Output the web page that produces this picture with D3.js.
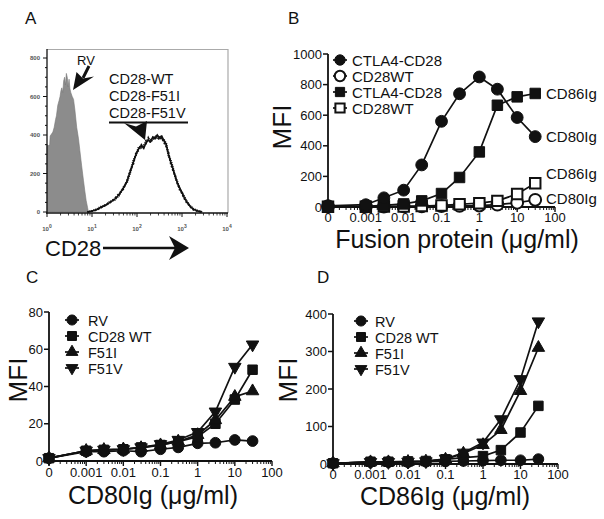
<!DOCTYPE html>
<html><head><meta charset="utf-8">
<script src="https://cdn.jsdelivr.net/npm/d3@7"></script>
<style>
body{margin:0;background:#fff;}
svg{display:block;font-family:"Liberation Sans",Arial,sans-serif;}
</style></head>
<body><svg id="chart" width="604" height="519"></svg>
<script>
// ---------- DATA ----------
// Panel A: flow histograms (x = log10 fluorescence, y = count)
const aRvLog    = [0.00,0.03,0.06,0.07,0.10,0.13,0.16,0.19,0.21,0.24,0.27,0.29,0.31,0.33,0.35,0.37,0.39,0.41,0.43,0.45,0.47,0.49,0.51,0.53,0.56,0.59,0.62,0.66,0.70,0.73,0.77,0.81,0.84,0.87,0.90,0.92];
const aRvCount  = [350,345,350,395,405,415,440,480,500,555,580,600,630,645,620,680,700,660,720,700,650,690,640,620,600,585,530,440,380,320,240,165,110,60,25,0];
const aCd28Log  = [0.90,1.00,1.10,1.20,1.30,1.40,1.50,1.60,1.70,1.78,1.85,1.92,1.98,2.04,2.10,2.15,2.20,2.25,2.30,2.35,2.40,2.45,2.50,2.55,2.60,2.65,2.70,2.75,2.80,2.85,2.90,2.95,3.00,3.05,3.10,3.18,3.25,3.35,3.45];
const aWtCount  = [0,5,12,25,35,50,65,90,125,160,210,260,300,330,345,330,360,375,365,390,380,400,385,395,370,350,300,260,225,185,150,125,100,75,55,30,15,5,0];
const aF51ICount= [0,4,10,22,38,48,70,95,120,165,215,250,310,320,350,340,355,385,360,380,390,395,375,385,360,340,310,250,215,190,145,120,95,70,50,28,12,4,0];
const aF51VCount= [0,6,14,28,33,55,62,85,130,155,205,270,295,340,335,345,370,365,380,375,395,385,395,380,375,355,290,270,230,180,155,115,105,80,58,32,18,6,0];
const aYTicks   = [0,200,400,600,800];
const aXDecades = [0,1,2,3,4];

// Dose-response panels
const doses       = [0, 0.001, 0.003, 0.01, 0.03, 0.1, 0.3, 1, 3, 10, 30];
const xTickValues = [1e-4, 1e-3, 1e-2, 0.1, 1, 10, 100];
const xTickLabels = ["0", "0.001", "0.01", "0.1", "1", "10", "100"];

// Panel B
const bCtla4Cd80 = [8, 15, 60, 110, 275, 560, 740, 850, 770, 585, 460];
const bWtCd80    = [3, 3, 3, 4, 4, 6, 7, 9, 15, 28, 47];
const bCtla4Cd86 = [3, 5, 10, 20, 40, 88, 193, 360, 665, 720, 742];
const bWtCd86    = [2, 2, 3, 4, 6, 10, 18, 25, 40, 85, 155];
const bLegend    = ["CTLA4-CD28", "CD28WT", "CTLA4-CD28", "CD28WT"];
const bYTicks    = [0, 200, 400, 600, 800, 1000];

// Panel C (CD80Ig)
const cRv   = [1.5, 5, 5, 5.5, 5, 6.3, 7.3, 9.5, 9.8, 11.3, 10.7];
const cWt   = [1.5, 5.5, 6, 6.3, 7.3, 8.6, 10.4, 13, 20, 33, 49];
const cF51I = [1.5, 5.5, 6, 6.3, 7, 8.5, 10.5, 14, 22, 34.5, 37.5];
const cF51V = [1.5, 5.5, 6, 6.3, 7.3, 9, 11.3, 15.5, 26.5, 50.5, 62.5];
const cYTicks = [0, 20, 40, 60, 80];

// Panel D (CD86Ig)
const dRv   = [2, 5, 5, 5, 6, 7, 8, 9, 10, 10, 13];
const dWt   = [2, 6, 6, 7, 8, 12.5, 17, 21, 37, 84, 155];
const dF51I = [2, 5, 5, 6, 7, 12, 28, 51, 91, 195, 310];
const dF51V = [2, 5, 5, 6, 7, 14, 30, 57, 119, 226, 380];
const dYTicks = [0, 100, 200, 300, 400];

const cdLegend = ["RV", "CD28 WT", "F51I", "F51V"];

// ---------- DRAW ----------
const svg = d3.select("#chart");
const INK = "#111";
const ZERO_AT = 1e-4;               // the "0" dose sits one decade below 0.001
const toAxis = v => v === 0 ? ZERO_AT : v;

function label(txt, x, y, size, anchor = "start", extra = {}) {
  const t = svg.append("text").attr("x", x).attr("y", y)
    .attr("font-size", size).attr("fill", INK).attr("text-anchor", anchor).text(txt);
  for (const k in extra) t.attr(k, extra[k]);
  return t;
}

// panel letters
label("A", 25, 24, 17); label("B", 288, 24, 17);
label("C", 26, 283, 17); label("D", 317, 283, 17);

// ---------- Panel A ----------
(function () {
  const x = d3.scaleLinear().domain([0, 4]).range([47, 227]);
  const y = d3.scaleLinear().domain([0, 800]).range([212, 58]);
  const g = svg.append("g");
  g.append("path").attr("d", `M47,49.5 H228 V213`).attr("fill", "none").attr("stroke", "#aaa").attr("stroke-width", 1.2);
  const area = d3.area().x((d, i) => x(aRvLog[i])).y0(y(0)).y1(d => y(d));
  g.append("path").datum(aRvCount).attr("d", area).attr("fill", "#8c8c8c").attr("stroke", "#777").attr("stroke-width", 0.6);
  const line = d3.line().x((d, i) => x(aCd28Log[i])).y(d => y(d));
  [[aWtCount, null, 1.6], [aF51ICount, "2,1.5", 1.8], [aF51VCount, "1,1", 2]].forEach(([arr, dash, w]) => {
    const p = g.append("path").datum(arr).attr("d", line).attr("fill", "none").attr("stroke", INK).attr("stroke-width", w);
    if (dash) p.attr("stroke-dasharray", dash);
  });
  g.append("line").attr("x1", 47).attr("x2", 47).attr("y1", 49).attr("y2", 213.5).attr("stroke", INK).attr("stroke-width", 1.3);
  g.append("line").attr("x1", 46).attr("x2", 228).attr("y1", 213).attr("y2", 213).attr("stroke", INK).attr("stroke-width", 1.3);
  d3.range(0, 850, 50).forEach(v => {
    const major = v % 200 === 0;
    g.append("line").attr("x1", 47).attr("x2", major ? 43 : 45).attr("y1", y(v)).attr("y2", y(v)).attr("stroke", INK).attr("stroke-width", 1);
  });
  aYTicks.forEach(v => label(String(v), 40, y(v) + 2, 6, "end", { "font-weight": "bold", fill: "#555" }));
  aXDecades.forEach(dcd => {
    g.append("line").attr("x1", x(dcd)).attr("x2", x(dcd)).attr("y1", 213).attr("y2", 217).attr("stroke", INK);
    if (dcd < 4) d3.range(2, 10).forEach(m => {
      const xv = x(dcd + Math.log10(m));
      g.append("line").attr("x1", xv).attr("x2", xv).attr("y1", 213).attr("y2", 215.5).attr("stroke", INK).attr("stroke-width", 0.8);
    });
    const t = label("10", x(dcd), 231, 6, "middle", { "font-weight": "bold", fill: "#555" });
    t.append("tspan").attr("dy", -3).attr("font-size", 5).text(dcd);
  });
  label("RV", 77, 65, 13);
  g.append("line").attr("x1", 83).attr("y1", 78).attr("x2", 89).attr("y2", 66).attr("stroke", INK).attr("stroke-width", 3);
  g.append("path").attr("d", "M73,90 L76.5,72 L83,78.5 L94,76.5 Z").attr("fill", INK);
  label("CD28-WT", 109, 84, 14.5);
  label("CD28-F51I", 109, 101, 14.5);
  label("CD28-F51V", 109, 118, 14.5);
  g.append("line").attr("x1", 109).attr("x2", 188).attr("y1", 122.5).attr("y2", 122.5).attr("stroke", INK).attr("stroke-width", 2);
  g.append("path").attr("d", "M145,140 L124,123 L136,126.5 L147,121 Z").attr("fill", INK);
  label("CD28", 45, 256, 22);
  g.append("line").attr("x1", 103).attr("x2", 178).attr("y1", 248).attr("y2", 248).attr("stroke", INK).attr("stroke-width", 2.5);
  g.append("path").attr("d", "M189,248 L169,236 L175,248 L169,260 Z").attr("fill", INK);
})();

// ---------- dose-response panels ----------
function symbolPath(type, size) {
  const map = { circle: d3.symbolCircle, square: d3.symbolSquare, tri: d3.symbolTriangle, triDown: d3.symbolTriangle };
  const s = (type === "tri" || type === "triDown") ? size * 0.75 : size;
  return d3.symbol().type(map[type]).size(s)();
}
function drawMarker(g, type, open, cx, cy, size) {
  return g.append("path").attr("d", symbolPath(type, size))
    .attr("transform", `translate(${cx},${cy})` + (type === "triDown" ? " rotate(180)" : ""))
    .attr("fill", open ? "#fff" : INK).attr("stroke", INK).attr("stroke-width", open ? 2 : 1);
}

function dosePanel(cfg) {
  const g = svg.append("g");
  const x = d3.scaleLog().domain([ZERO_AT, 100]).range(cfg.xRange);
  const y = d3.scaleLinear().domain([0, cfg.yMax]).range(cfg.yRange);
  const x0 = cfg.xRange[0], y0 = cfg.yRange[0];
  g.append("line").attr("x1", x0).attr("x2", x0).attr("y1", cfg.yRange[1]).attr("y2", y0 + 1).attr("stroke", INK).attr("stroke-width", 1.8);
  g.append("line").attr("x1", x0 - 1).attr("x2", cfg.xRange[1]).attr("y1", y0).attr("y2", y0).attr("stroke", INK).attr("stroke-width", 1.8);
  cfg.yTicks.forEach(v => {
    g.append("line").attr("x1", x0).attr("x2", x0 - 5).attr("y1", y(v)).attr("y2", y(v)).attr("stroke", INK).attr("stroke-width", 1.5);
    label(String(v), x0 - 6, y(v) + 4.5, 13, "end");
  });
  xTickValues.forEach((v, i) => {
    g.append("line").attr("x1", x(v)).attr("x2", x(v)).attr("y1", y0).attr("y2", y0 + 5).attr("stroke", INK).attr("stroke-width", 1.4);
    if (i < xTickValues.length - 1) d3.range(2, 10).forEach(m => {
      const xv = x(v * m);
      g.append("line").attr("x1", xv).attr("x2", xv).attr("y1", y0).attr("y2", y0 + 3).attr("stroke", INK).attr("stroke-width", 1);
    });
    label(xTickLabels[i], x(v), cfg.xLabelY, 13, "middle");
  });
  const line = d3.line().x((d, i) => x(toAxis(doses[i]))).y(d => y(d));
  cfg.series.forEach(s => {
    g.append("path").datum(s.values).attr("d", line).attr("fill", "none").attr("stroke", INK).attr("stroke-width", 1.7);
  });
  cfg.series.forEach(s => {
    s.values.forEach((v, i) => drawMarker(g, s.type, s.open, x(toAxis(doses[i])), y(v), cfg.markSize));
  });
  cfg.legend.forEach((name, i) => {
    const s = cfg.series[cfg.legendOrder[i]];
    const ly = cfg.legY[i];
    g.append("line").attr("x1", cfg.legX - 7).attr("x2", cfg.legX + 7).attr("y1", ly).attr("y2", ly).attr("stroke", INK).attr("stroke-width", 1.7);
    drawMarker(g, s.type, s.open, cfg.legX, ly, cfg.legMarkSize);
    label(name, cfg.legX + cfg.legDx, ly + 5.5, cfg.legFont);
  });
  label(cfg.xTitle, cfg.xTitleX, cfg.xTitleY, 25, "middle");
  label("MFI", 0, 0, 26, "middle", { transform: `translate(${cfg.yTitleX},${cfg.yTitleY}) rotate(-90)` });
  return { g, x, y };
}

// Panel B
dosePanel({
  xRange: [328, 555], yRange: [207, 54], yMax: 1000, yTicks: bYTicks, xLabelY: 221.5,
  series: [
    { values: bWtCd80, type: "circle", open: true },
    { values: bWtCd86, type: "square", open: true },
    { values: bCtla4Cd86, type: "square", open: false },
    { values: bCtla4Cd80, type: "circle", open: false }
  ],
  legend: bLegend, legendOrder: [3, 0, 2, 1], legX: 340, legY: [60, 76, 92, 108],
  markSize: 110, legMarkSize: 85, legDx: 12, legFont: 15,
  xTitle: "Fusion protein (\u03bcg/ml)", xTitleX: 457, xTitleY: 247.5,
  yTitleX: 291, yTitleY: 127
});
label("CD86Ig", 546, 99, 15); label("CD80Ig", 546, 142, 15);
label("CD86Ig", 546, 179, 15); label("CD80Ig", 546, 204, 15);

// Panel C
dosePanel({
  xRange: [49, 272], yRange: [461, 312], yMax: 80, yTicks: cYTicks, xLabelY: 477,
  series: [
    { values: cRv, type: "circle", open: false },
    { values: cWt, type: "square", open: false },
    { values: cF51I, type: "tri", open: false },
    { values: cF51V, type: "triDown", open: false }
  ],
  legend: cdLegend, legendOrder: [0, 1, 2, 3], legX: 72, legY: [320, 336, 352, 368],
  markSize: 90, legMarkSize: 80, legDx: 16, legFont: 14.5,
  xTitle: "CD80Ig (\u03bcg/ml)", xTitleX: 153, xTitleY: 503.5,
  yTitleX: 27, yTitleY: 380
});

// Panel D
dosePanel({
  xRange: [333, 558], yRange: [464, 314], yMax: 400, yTicks: dYTicks, xLabelY: 478.5,
  series: [
    { values: dRv, type: "circle", open: false },
    { values: dWt, type: "square", open: false },
    { values: dF51I, type: "tri", open: false },
    { values: dF51V, type: "triDown", open: false }
  ],
  legend: cdLegend, legendOrder: [0, 1, 2, 3], legX: 361, legY: [321, 337, 353, 369],
  markSize: 90, legMarkSize: 80, legDx: 14, legFont: 14.5,
  xTitle: "CD86Ig (\u03bcg/ml)", xTitleX: 445, xTitleY: 505,
  yTitleX: 297, yTitleY: 380
});
</script></body></html>
